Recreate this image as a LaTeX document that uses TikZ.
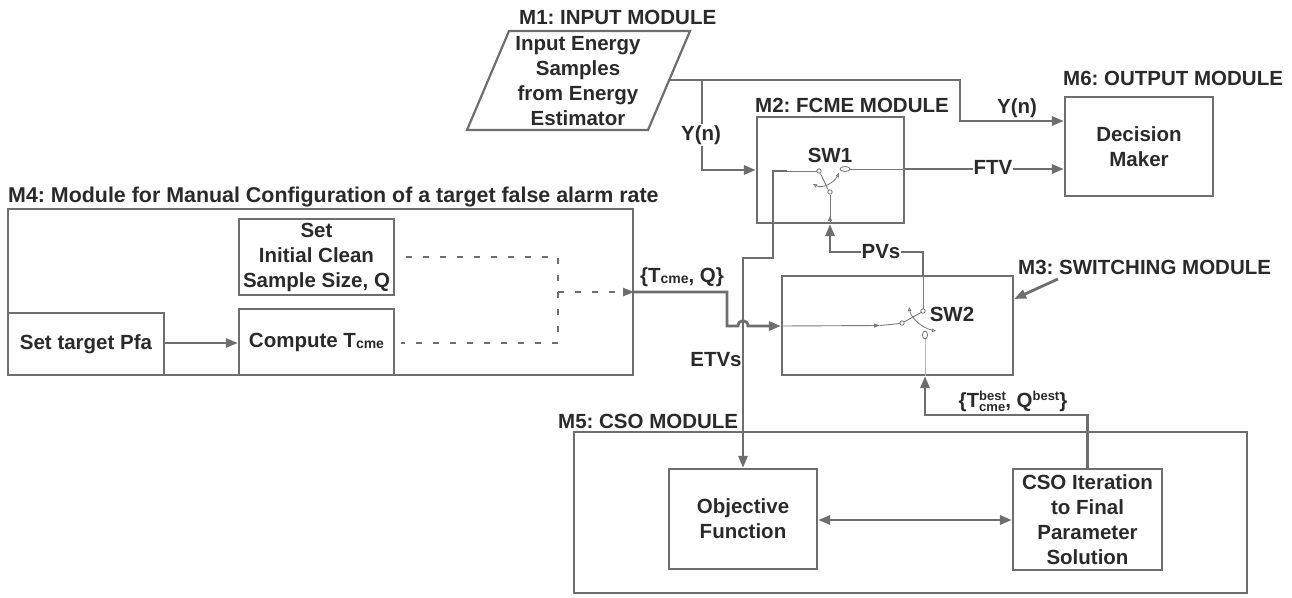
\documentclass[tikz,border=0pt]{standalone}
\usepackage{fontspec}
\setmainfont{Liberation Sans}
\usetikzlibrary{arrows.meta,calc}
\definecolor{lc}{HTML}{6E6E6E}
\definecolor{txt}{HTML}{2A2A2A}
\definecolor{thinc}{HTML}{7A7A7A}
\frenchspacing
\begin{document}
\begin{tikzpicture}[x=1pt,y=-1pt,
  lab/.style={font=\fontsize{20.5}{25}\selectfont\bfseries, text=txt, inner sep=1pt},
  box/.style={draw=lc, line width=2.2pt, align=center, lab, inner sep=0pt},
  conn/.style={draw=lc, line width=2.8pt, line join=miter, -{Triangle[length=12pt,width=9pt]}},
  link/.style={draw=lc, line width=2.8pt},
  dashline/.style={draw=lc, line width=2pt, dash pattern=on 6pt off 11pt},
  thinl/.style={draw=thinc, line width=0.9pt},
  contact/.style={draw=thinc, line width=0.9pt, fill=white},
  swarr/.style={draw=thinc, line width=0.8pt, {Triangle[open,length=4pt,width=3.5pt]}-{Triangle[open,length=4pt,width=3.5pt]}},
  wbg/.style={fill=white, inner sep=1pt}
]
\useasboundingbox (0,0) rectangle (1292,597);

% ---------- boxes ----------
\node[box, minimum width=625pt, minimum height=166pt] (m4) at (320.5,292) {};
\node[box, minimum width=156pt, minimum height=62pt] (pfa) at (86,344) {Set target Pfa};
\node[box, minimum width=155pt, minimum height=76pt] (sic) at (316.5,257) {Set\\Initial Clean\\Sample Size, Q};
\node[box, minimum width=155pt, minimum height=66pt] (comp) at (316.5,342) {Compute T\raisebox{-1pt}{\fontsize{14}{14}\selectfont cme}};
\node[box, minimum width=147pt, minimum height=106pt] (m2) at (830.5,170) {};
\node[box, minimum width=231pt, minimum height=99pt] (m3) at (897.5,325.5) {};
\node[box, minimum width=148pt, minimum height=99pt] (dm) at (1139,146.5) {Decision\\Maker};
\node[box, minimum width=673pt, minimum height=161pt] (m5) at (910.5,512.5) {};
\node[box, minimum width=148pt, minimum height=100pt] (obj) at (743,519) {Objective\\Function};
\node[box, minimum width=149pt, minimum height=101pt] (cso) at (1087.5,519.5) {CSO Iteration\\to Final\\Parameter\\Solution};

% input parallelogram
\draw[lc, line width=2.2pt] (467,130) -- (648,130) -- (690,31) -- (509,31) -- cycle;
\node[lab, align=center] (inp) at (578,81) {Input Energy\\Samples\\from Energy\\Estimator};

% ---------- titles ----------
\node[lab, anchor=west] (t1) at (518,17) {M1: INPUT MODULE};
\node[lab, anchor=west] (t2) at (754,105) {M2: FCME MODULE};
\node[lab, anchor=west] (t3) at (1017,267) {M3: SWITCHING MODULE};
\node[lab, anchor=west, font=\fontsize{21.4}{25}\selectfont\bfseries] (t4) at (7,197) {M4: Module for Manual Configuration of a target false alarm rate};
\node[lab, anchor=west] (t5) at (557,421) {M5: CSO MODULE};
\node[lab, anchor=west] (t6) at (1062,78) {M6: OUTPUT MODULE};

% ---------- coordinates ----------
\coordinate (inR) at (669,80);
\coordinate (yTurn) at (960,80);
\coordinate (yEnd) at (960,121);
\coordinate (br) at (702,80);
\coordinate (e1) at (787,171);
\coordinate (e2) at (773,171);
\coordinate (e3) at (773,258);
\coordinate (e4) at (743,258);
\coordinate (p1) at (923,276);
\coordinate (p2) at (923,252);
\coordinate (p3) at (830,252);
\coordinate (q1) at (727,292);
\coordinate (q2) at (727,326);
\coordinate (q3) at (738,326);
\coordinate (q4) at (748,326);
\coordinate (c1) at (925,415);
\coordinate (d1) at (406,257);
\coordinate (d2) at (558,257);
\coordinate (d3) at (558,343);
\coordinate (d4) at (401,343);
\coordinate (d5) at (558,292);
\coordinate (m3p) at (1058,279);

% ---------- connectors ----------
\draw[conn] (inR) -- (yTurn) -- (yEnd) -- (dm.west |- yEnd);
\draw[conn] (br) |- (m2.west);
\draw[conn] (e1) -- (e2) -- (e3) -- (e4) -- (obj.north);
\draw[conn] (m2.east |- 0,169) -- (dm.west |- 0,169);
\draw[conn] (p1) -- (p2) -- (p3) -- (m2.south -| p3);
\draw[conn] (m4.east |- q1) -- (q1) -- (q2) -- (q3) .. controls (738,319) and (748,319) .. (q4) -- (m3.west |- q4);
\draw[conn] (cso.north) |- (c1) -- (m3.south -| c1);
\draw[dashline] (d1) -- (d2) -- (d3) -- (d4);
\draw[dashline, -{Triangle[length=11pt,width=8pt]}] (d5) -- (m4.east |- d5);
\draw[conn, line width=2.5pt] (pfa.east |- 0,343) -- (comp.west |- 0,343);
\draw[draw=lc, line width=2.8pt, {Triangle[length=12pt,width=9pt]}-{Triangle[length=12pt,width=9pt]}] (obj.east |- 0,520) -- (cso.west |- 0,520);
\draw[conn] (m3p) -- (m3.east |- 0,299);

% ---------- switch SW1 ----------
\draw[thinl] (e1) -- (817,171);
\draw[thinl] (850,169) -- (m2.east |- 0,169);
\draw[thinl] (m2.south -| p3) -- (830,194.5);
\draw[thinl, -{Triangle[length=5pt,width=4pt]}] (m2.south -| p3) -- (830,216);
\draw[thinl] (820.5,173.5) -- (828,189.5);
\draw[swarr] (813,184) .. controls (822,189) and (834,183) .. (839,173);
\draw[contact] (819,171) circle[radius=2.2];
\draw[contact] (845,169) ellipse[x radius=5, y radius=2.5];
\draw[contact] (830,192) circle[radius=2.2];

% ---------- switch SW2 ----------
\draw[thinl, -{Triangle[length=6pt,width=4pt]}] (m3.west |- q4) -- (880,325.5);
\draw[thinl] (880,325.5) -- (900,323.5);
\draw[thinl] (p1) -- (923,309);
\draw[thinl, draw=gray!55] (m3.south -| c1) -- (925,339);
\draw[thinl] (921,312.5) -- (904,322);
\draw[swarr] (909,307) .. controls (911,318) and (922,328) .. (936,331);
\draw[contact] (902,323) circle[radius=2.2];
\draw[contact] (923,311) circle[radius=2.2];
\draw[contact] (925,335) ellipse[x radius=2.5, y radius=4];

% ---------- labels ----------
\node[lab] (sw1) at (830,155) {SW1};
\node[lab] (sw2) at (952,314) {SW2};
\node[lab, wbg] (yn1) at (701,135) {Y(n)};
\node[lab] (yn2) at (1017,108) {Y(n)};
\node[lab, wbg] (ftv) at (993,167) {FTV};
\node[lab, wbg] (pvs) at (881,252) {PVs};
\node[lab] (etv) at (716,360) {ETVs};
\node[lab] (tq) at (682,277) {\{T\raisebox{-1pt}{\fontsize{14}{14}\selectfont cme}, Q\}};
\node[lab] (best) at (1013,401) {\{T\makebox[0pt][l]{\raisebox{7pt}{\fontsize{13}{13}\selectfont best}}\raisebox{-4pt}{\fontsize{13}{13}\selectfont cme}, Q\raisebox{7pt}{\fontsize{13}{13}\selectfont best}\}};
\end{tikzpicture}
\end{document}
